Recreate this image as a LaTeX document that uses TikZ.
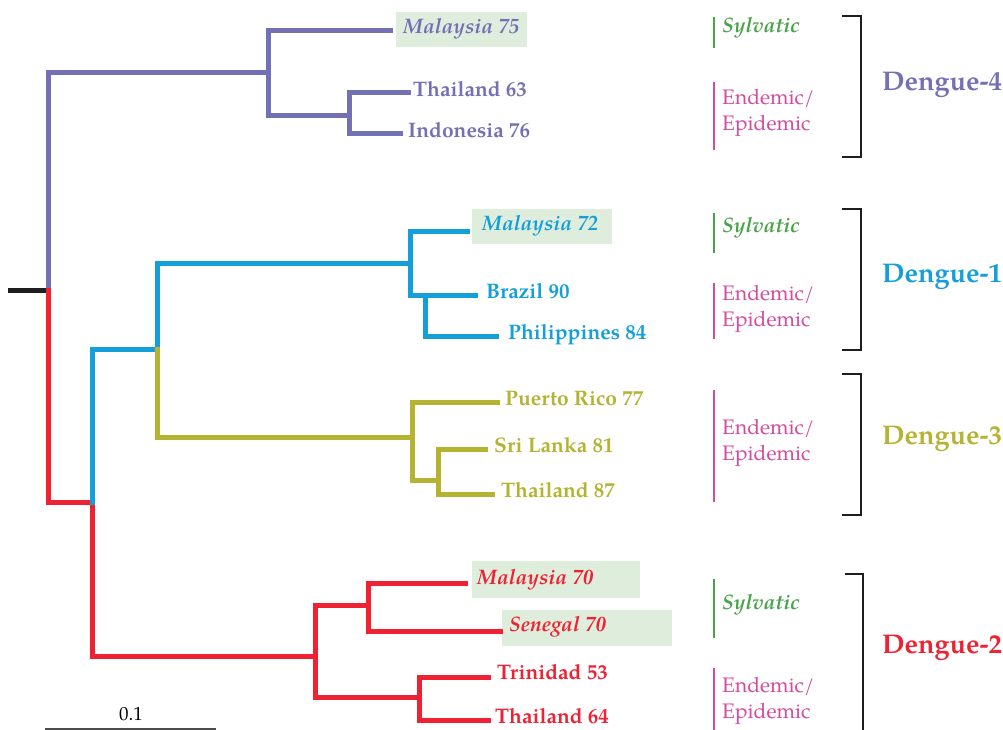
\documentclass[tikz,border=0pt]{standalone}
\usepackage{fontspec}
\setmainfont{texgyrepagella}[Extension=.otf,UprightFont=*-regular,BoldFont=*-bold,ItalicFont=*-italic,BoldItalicFont=*-bolditalic]
\definecolor{cpurple}{HTML}{7470B6}
\definecolor{cblue}{HTML}{159FDA}
\definecolor{colive}{HTML}{B4B332}
\definecolor{cred}{HTML}{EE2233}
\definecolor{cgreen}{HTML}{4AA34A}
\definecolor{cmag}{HTML}{D24B9E}
\definecolor{cbox}{HTML}{DFEDDC}
\definecolor{cblack}{HTML}{1E1E1E}
\begin{document}
\begin{tikzpicture}[x=1pt,y=-1pt,
  branch/.style={line width=5pt,line cap=rect,line join=miter},
  leaf/.style={anchor=west,inner sep=0pt,font=\fontsize{21}{24}\selectfont\bfseries,text height=0.68em,text depth=0pt},
  sleaf/.style={anchor=west,inner sep=0pt,font=\fontsize{21}{24}\selectfont\bfseries\itshape,text height=0.68em,text depth=0pt},
  sylv/.style={anchor=west,inner sep=0pt,text=cgreen,font=\fontsize{21}{24}\selectfont\bfseries\itshape,text height=0.68em,text depth=0pt},
  endem/.style={anchor=west,inner sep=0pt,text=cmag,align=left,font=\fontsize{21}{25.5}\selectfont},
  bar/.style={line width=1.5pt},
  brack/.style={line width=2.6pt,cblack},
  serot/.style={anchor=west,inner sep=0pt,font=\fontsize{27}{32}\selectfont\bfseries,text height=0.68em,text depth=0pt},
  hbox/.style={fill=cbox}]
\useasboundingbox (0,0) rectangle (1003,730);
% highlight boxes
\fill[hbox] (396,12) rectangle (527,47);
\fill[hbox] (472,209) rectangle (612,244);
\fill[hbox] (472,561) rectangle (640,598);
\fill[hbox] (502,610) rectangle (672,646);
% tree coordinates
\coordinate (stub) at (10,290);
\coordinate (r) at (48,290);
\coordinate (d4) at (268,73);
\coordinate (m75) at (390,31);
\coordinate (d4b) at (349,116);
\coordinate (t63) at (408,93);
\coordinate (i76) at (400,134);
\coordinate (d123) at (92,502);
\coordinate (d13) at (157,349);
\coordinate (d1) at (410,263);
\coordinate (m72) at (467,231);
\coordinate (d1b) at (425,295);
\coordinate (b90) at (475,295);
\coordinate (p84) at (496,336);
\coordinate (d3) at (412,437);
\coordinate (pr77) at (497,402);
\coordinate (d3b) at (438,480);
\coordinate (sl81) at (485,449);
\coordinate (t87) at (492,494);
\coordinate (d2) at (315,656);
\coordinate (d2a) at (368,605);
\coordinate (m70) at (465,583);
\coordinate (s70) at (500,631);
\coordinate (d2b) at (419,697);
\coordinate (t53) at (488,677);
\coordinate (t64) at (488,720);
% branches
\draw[branch,cblack] (stub) -- (r);
\draw[branch,cpurple] (r) |- (d4);
\draw[branch,cpurple] (d4) |- (m75);
\draw[branch,cpurple] (d4) |- (d4b);
\draw[branch,cpurple] (d4b) |- (t63);
\draw[branch,cpurple] (d4b) |- (i76);
\draw[branch,cred] (r) |- (d123);
\draw[branch,cred] (d123) |- (d2);
\draw[branch,cblue] (d123) |- (d13);
\draw[branch,cblue] (d13) |- (d1);
\draw[branch,colive] (d13) |- (d3);
\draw[branch,cblue] (d1) |- (m72);
\draw[branch,cblue] (d1) |- (d1b);
\draw[branch,cblue] (d1b) -- (b90);
\draw[branch,cblue] (d1b) |- (p84);
\draw[branch,colive] (d3) |- (pr77);
\draw[branch,colive] (d3) |- (d3b);
\draw[branch,colive] (d3b) |- (sl81);
\draw[branch,colive] (d3b) |- (t87);
\draw[branch,cred] (d2) |- (d2a);
\draw[branch,cred] (d2a) |- (m70);
\draw[branch,cred] (d2a) |- (s70);
\draw[branch,cred] (d2) |- (d2b);
\draw[branch,cred] (d2b) |- (t53);
\draw[branch,cred] (d2b) |- (t64);
% leaf labels
\node[sleaf,text=cpurple] (lm75) at (403,30) {Malaysia 75};
\node[leaf,text=cpurple] (lt63) at (413,93) {Thailand 63};
\node[leaf,text=cpurple] (li76) at (408,134) {Indonesia 76};
\node[sleaf,text=cblue] (lm72) at (482,227) {Malaysia 72};
\node[leaf,text=cblue] (lb90) at (486,295) {Brazil 90};
\node[leaf,text=cblue] (lp84) at (508,336) {Philippines 84};
\node[leaf,text=colive] (lpr77) at (505,402) {Puerto Rico 77};
\node[leaf,text=colive] (lsl81) at (494,449) {Sri Lanka 81};
\node[leaf,text=colive] (lt87) at (501,494) {Thailand 87};
\node[sleaf,text=cred] (lm70) at (477,581) {Malaysia 70};
\node[sleaf,text=cred] (ls70) at (509,628) {Senegal 70};
\node[leaf,text=cred] (lt53) at (497,676) {Trinidad 53};
\node[leaf,text=cred] (lt64) at (495,720) {Thailand 64};
% scale bar
\coordinate (sb1) at (45,729);
\coordinate (sb2) at (216,729);
\draw[line width=1.5pt,black!70] (sb1) -- (sb2);
\node[inner sep=0pt,font=\fontsize{19}{22}\selectfont] (sbl) at (131,714) {0.1};
% category bars
\draw[bar,cgreen] (714,17) -- (714,48);
\node[sylv] (sy4) at (722,29) {Sylvatic};
\draw[bar,cmag] (714,82) -- (714,150);
\node[endem] (en4) at (722,113) {Endemic/\\Epidemic};
\draw[bar,cgreen] (714,213) -- (714,253);
\node[sylv] (sy1) at (722,229) {Sylvatic};
\draw[bar,cmag] (714,283) -- (714,339);
\node[endem] (en1) at (722,309) {Endemic/\\Epidemic};
\draw[bar,cmag] (714,390) -- (714,502);
\node[endem] (en3) at (722,443) {Endemic/\\Epidemic};
\draw[bar,cgreen] (714,579) -- (714,638);
\node[sylv] (sy2) at (722,606) {Sylvatic};
\draw[bar,cmag] (714,668) -- (714,735);
\node[endem] (en2) at (722,701) {Endemic/\\Epidemic};
% brackets
\draw[brack] (842,16) -- (861,16) -- (861,157) -- (842,157);
\draw[brack] (842,209) -- (861,209) -- (861,350) -- (842,350);
\draw[brack] (842,374) -- (861,374) -- (861,515) -- (842,515);
\draw[brack] (845,574) -- (863,574) -- (863,740);
\node[serot,text=cpurple] (s4) at (882,87) {Dengue-4};
\node[serot,text=cblue] (s1) at (882,279) {Dengue-1};
\node[serot,text=colive] (s3) at (882,441) {Dengue-3};
\node[serot,text=cred] (s2) at (882,650) {Dengue-2};
\end{tikzpicture}
\end{document}
